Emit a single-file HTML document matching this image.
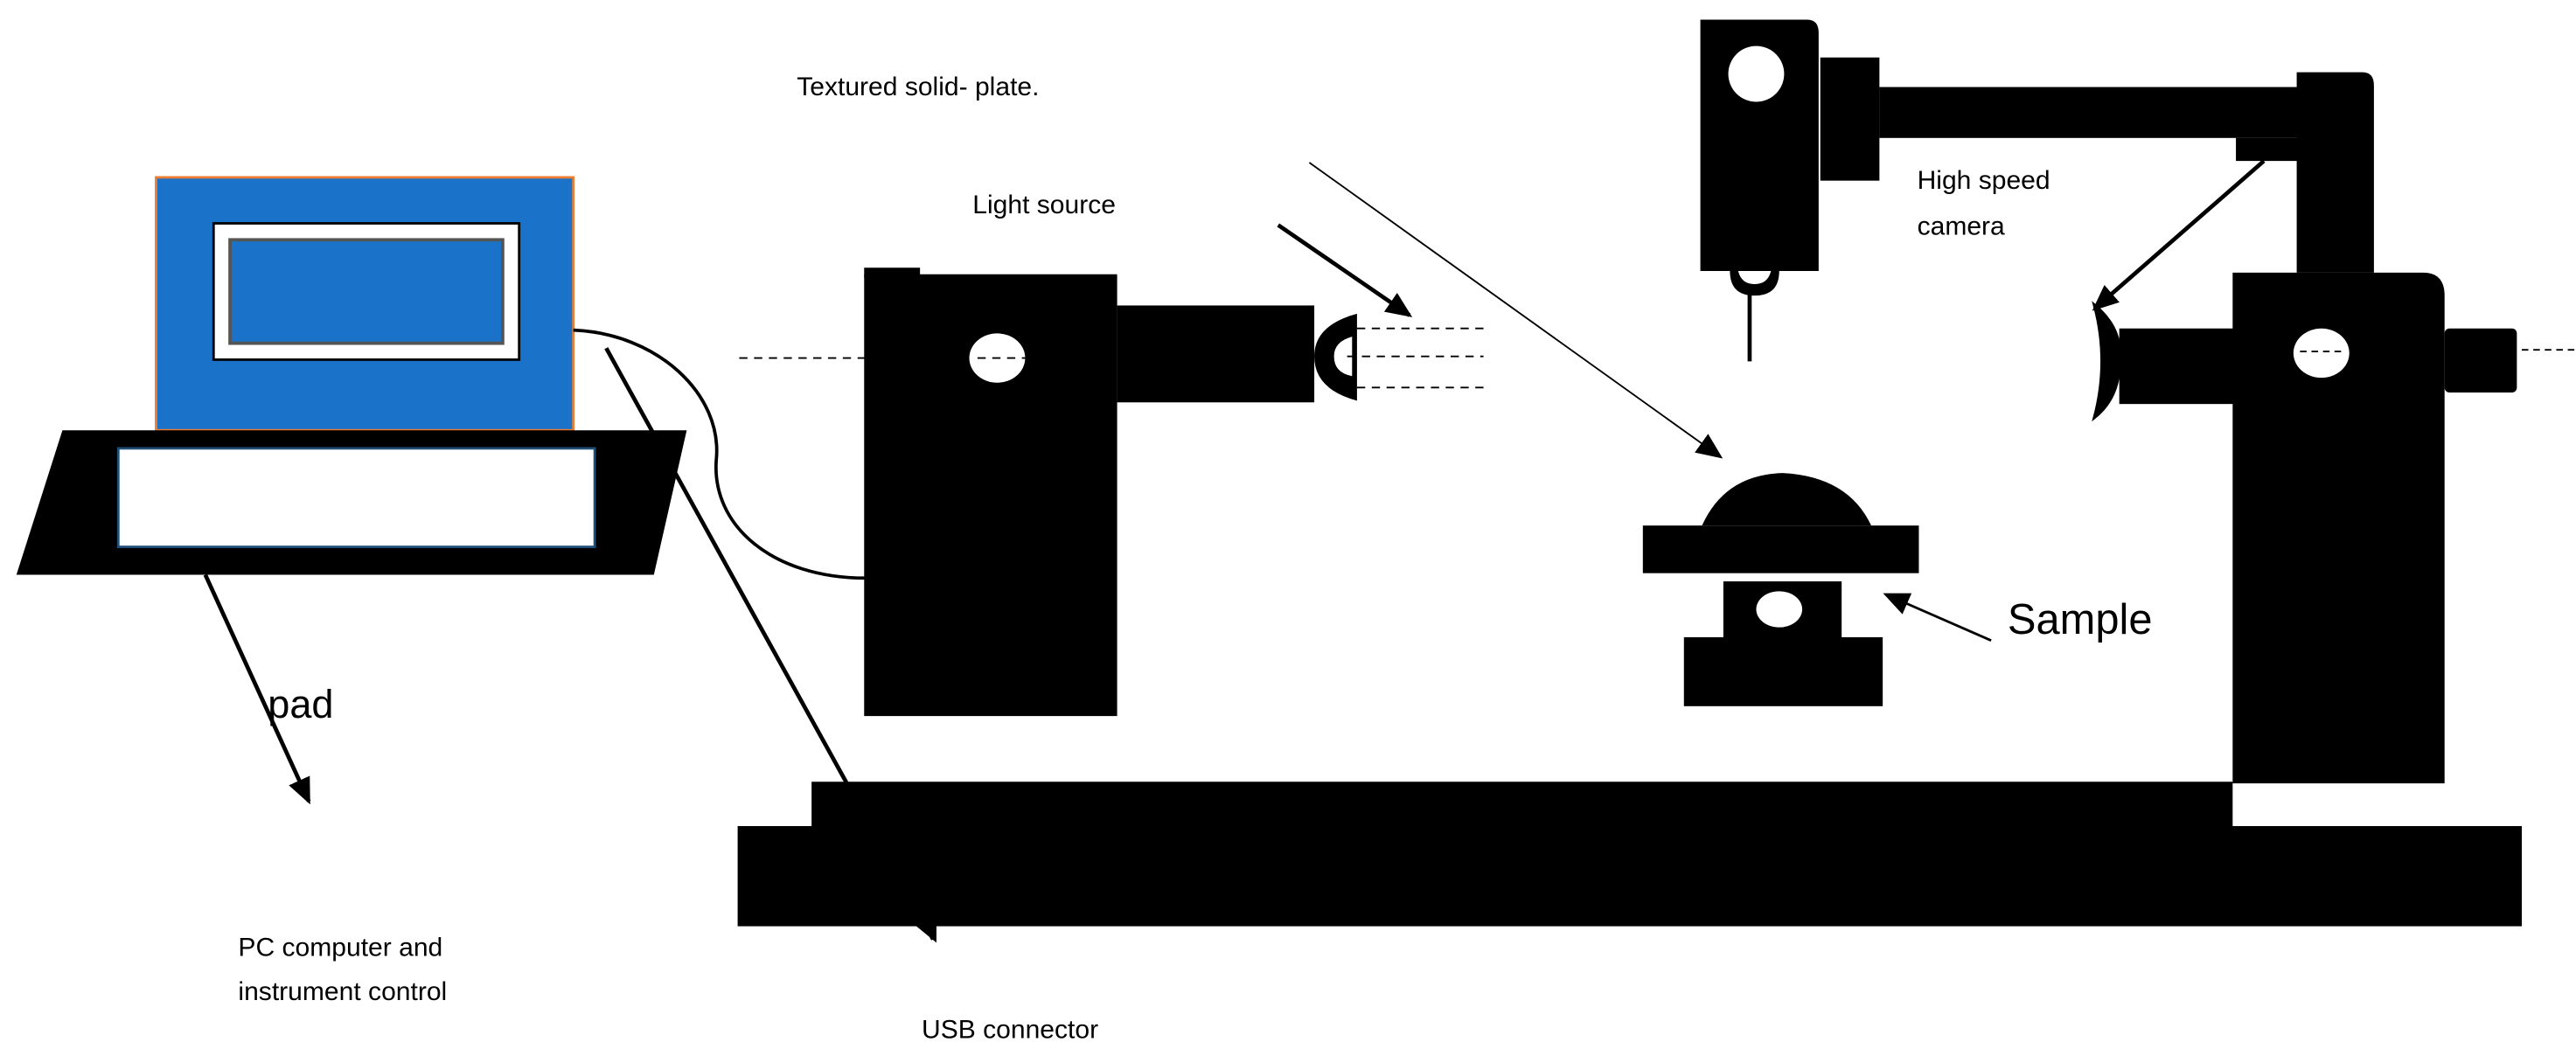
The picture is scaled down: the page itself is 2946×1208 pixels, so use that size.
<!DOCTYPE html>
<html><head><style>html,body{margin:0;padding:0;background:#fff;}svg{display:block}</style></head>
<body>
<svg width="2946" height="1208" viewBox="0 0 1568 643" preserveAspectRatio="none" xmlns="http://www.w3.org/2000/svg" font-family="Liberation Sans, sans-serif">
<defs>
<marker id="ahb" markerWidth="16" markerHeight="14" refX="14" refY="7" orient="auto" markerUnits="userSpaceOnUse"><path d="M0,0 L16,7 L0,14 z" fill="#000"/></marker>
</defs>
<rect width="1568" height="643" fill="#fff"/>
<text x="485" y="58" font-size="16">Textured solid- plate.</text>
<text x="592" y="130" font-size="16">Light source</text>
<text x="1167" y="115" font-size="16">High speed</text>
<text x="1167" y="143" font-size="16">camera</text>
<text x="1222" y="386" font-size="26">Sample</text>
<text x="163" y="437" font-size="24">pad</text>
<text x="145" y="582" font-size="16">PC computer and</text>
<text x="145" y="609" font-size="16">instrument control</text>
<text x="561" y="632" font-size="16">USB connector</text>
<rect x="95" y="108" width="254" height="154" fill="#1a73c8" stroke="#ed7d31" stroke-width="1.5"/>
<rect x="130" y="136" width="186" height="83" fill="#fff" stroke="#000" stroke-width="1.5"/>
<rect x="140" y="146" width="166" height="63" fill="#1a73c8" stroke="#555" stroke-width="2"/>
<polygon points="38,262 418,262 398,350 10,350" fill="#000"/>
<rect x="72" y="273" width="290" height="60" fill="#fff" stroke="#1f4e79" stroke-width="1.5"/>
<path d="M349,201 C400,203 440,240 436,280 C433,320 470,352 527,352" fill="none" stroke="#000" stroke-width="2"/>
<line x1="125" y1="350" x2="188" y2="488" stroke="#000" stroke-width="2.5" marker-end="url(#ahb)"/>
<line x1="450" y1="218" x2="626" y2="218" stroke="#000" stroke-width="1" stroke-dasharray="5,4"/>
<rect x="526" y="167" width="154" height="269" fill="#000"/>
<rect x="526" y="163" width="34" height="6" fill="#000"/>
<rect x="680" y="186" width="120" height="59" fill="#000"/>
<path d="M826,191 Q800,198 800,217 Q800,237 826,244 z" fill="#000"/>
<path d="M823,205 Q812,208 812,217 Q812,227 823,229 z" fill="#fff"/>
<ellipse cx="607" cy="218" rx="17" ry="15" fill="#fff"/>
<line x1="595" y1="218" x2="625" y2="218" stroke="#000" stroke-width="1" stroke-dasharray="5,4"/>
<g stroke="#000" stroke-width="1" stroke-dasharray="5,4"><line x1="826" y1="200" x2="903" y2="200"/><line x1="820" y1="217" x2="903" y2="217"/><line x1="826" y1="236" x2="903" y2="236"/></g>
<line x1="778" y1="137" x2="858" y2="192" stroke="#000" stroke-width="2.5" marker-end="url(#ahb)"/>
<line x1="797" y1="99" x2="1047" y2="278" stroke="#000" stroke-width="1" marker-end="url(#ahb)"/>
<line x1="369" y1="212" x2="568" y2="572" stroke="#000" stroke-width="2.5"/>
<path d="M1035,12 L1100,12 Q1107,12 1107,20 L1107,165 L1035,165 z" fill="#000"/>
<ellipse cx="1069" cy="45" rx="17" ry="17" fill="#fff"/>
<rect x="1108" y="35" width="36" height="75" fill="#000"/>
<rect x="1144" y="53" width="256" height="31" fill="#000"/>
<path d="M1398,44 L1438,44 Q1445,44 1445,52 L1445,166 L1398,166 z" fill="#000"/>
<rect x="1361" y="84" width="40" height="14" fill="#000"/>
<path d="M1053,165 Q1053,180 1068,180 Q1083,180 1083,165 z" fill="#000"/>
<path d="M1058,165 Q1060,173 1068,173 Q1076,173 1078,165 z" fill="#fff"/>
<line x1="1065" y1="178" x2="1065" y2="220" stroke="#000" stroke-width="2.5"/>
<line x1="1378" y1="98" x2="1275" y2="188" stroke="#000" stroke-width="2.5" marker-end="url(#ahb)"/>
<path d="M1359,166 L1475,166 Q1488,166 1488,180 L1488,477 L1359,477 z" fill="#000"/>
<rect x="1290" y="200" width="70" height="46" fill="#000"/>
<rect x="1488" y="200" width="44" height="39" rx="3" fill="#000"/>
<ellipse cx="1413" cy="215" rx="17" ry="15" fill="#fff"/>
<line x1="1400" y1="214" x2="1426" y2="214" stroke="#000" stroke-width="1" stroke-dasharray="4,3"/>
<line x1="1535" y1="213" x2="1568" y2="213" stroke="#000" stroke-width="1" stroke-dasharray="4,3"/>
<path d="M1275,186 Q1292,200 1290,220 Q1290,242 1275,254 Q1284,220 1275,186 z" fill="#000" stroke="#000" stroke-width="2"/>
<path d="M1036,320 Q1050,289 1085,288 Q1125,290 1139,320 z" fill="#000"/>
<rect x="1000" y="320" width="168" height="29" fill="#000"/>
<rect x="1049" y="354" width="72" height="35" fill="#000"/>
<rect x="1025" y="388" width="121" height="42" fill="#000"/>
<ellipse cx="1083" cy="371" rx="14" ry="11" fill="#fff"/>
<line x1="1212" y1="390" x2="1148" y2="362" stroke="#000" stroke-width="1.5" marker-end="url(#ahb)"/>
<rect x="494" y="476" width="865" height="28" fill="#000"/>
<rect x="449" y="503" width="1086" height="61" fill="#000"/>
<polygon points="553,560 570,560 570,574" fill="#000"/>
</svg>
</body></html>
